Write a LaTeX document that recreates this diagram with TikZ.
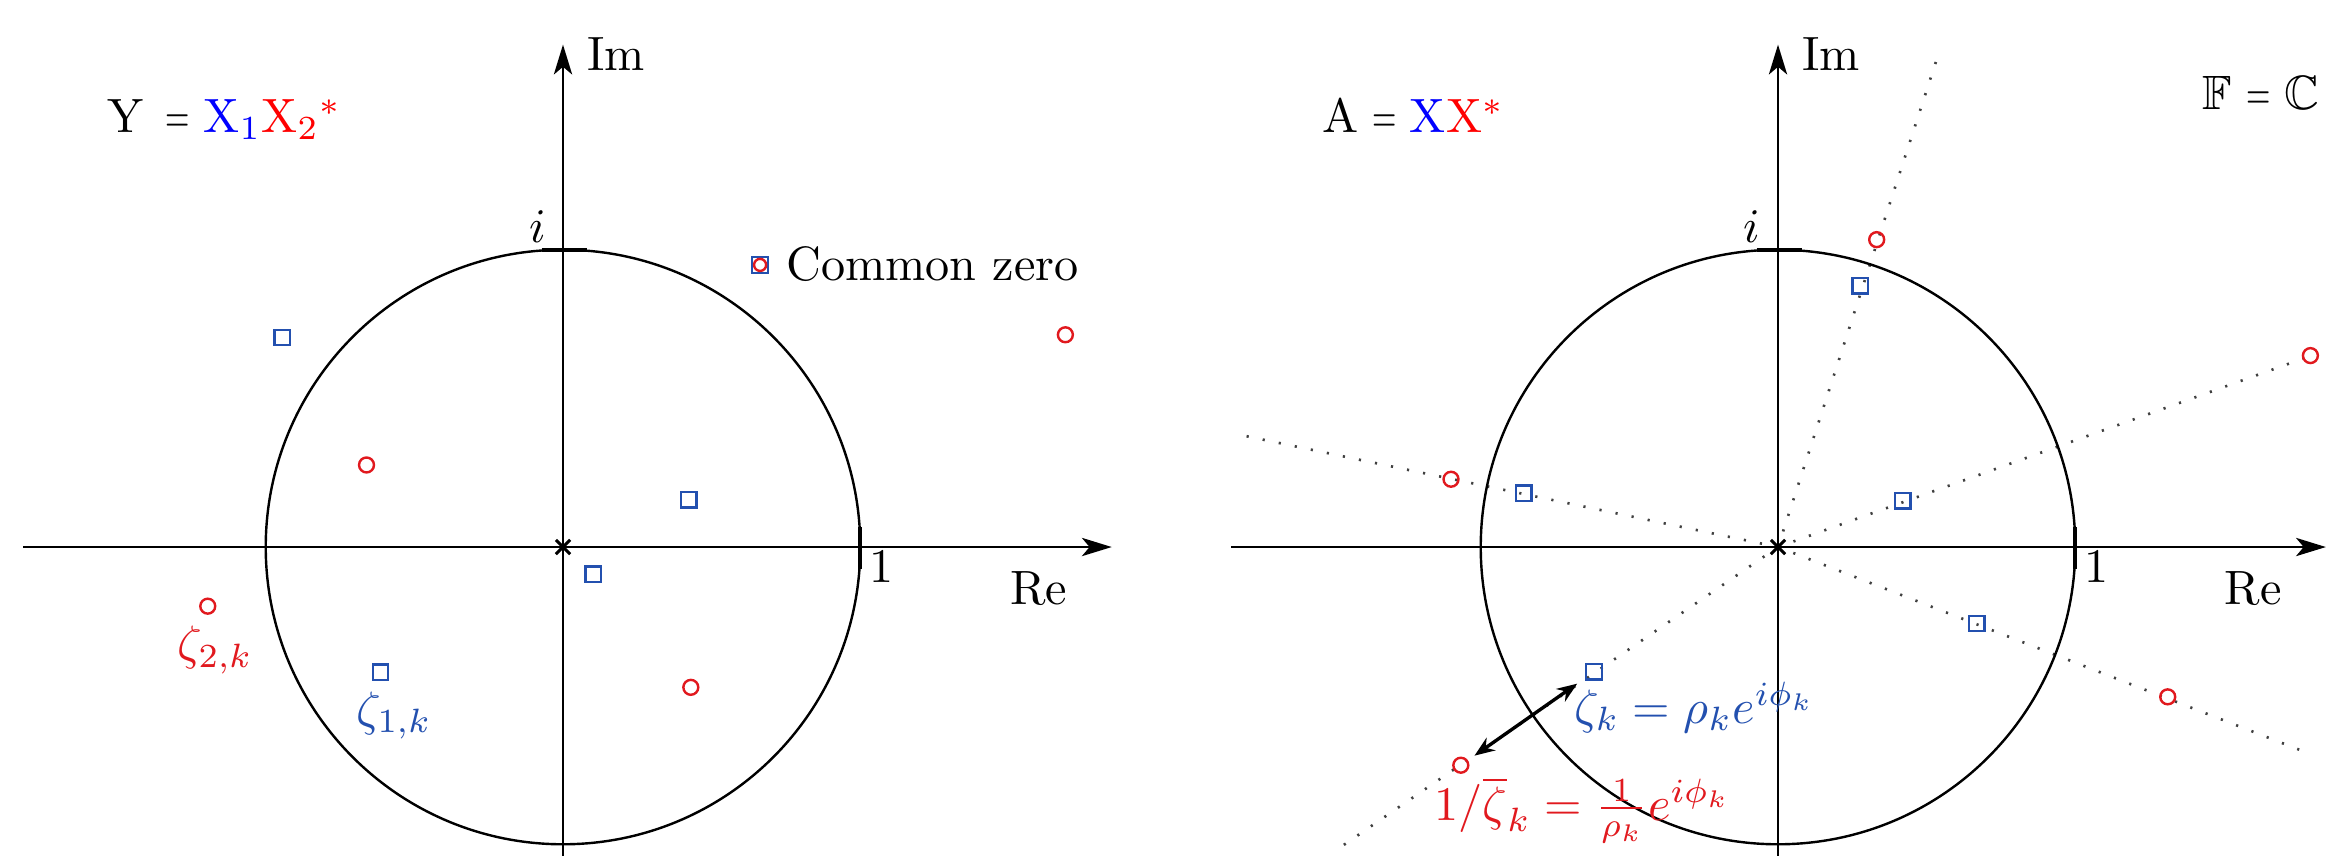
\documentclass[tikz,border=0pt]{standalone}
\usepackage{amssymb}
\usepackage{graphicx}
\usetikzlibrary{arrows.meta}
\definecolor{zblue}{RGB}{35,80,175}
\definecolor{zred}{RGB}{225,25,30}
\newcommand{\nareq}{\scalebox{0.65}[1]{$=$}}
\tikzset{
  axis/.style={line width=0.4pt,-{Stealth[length=6.2pt,width=3.8pt,inset=1.6pt]}},
  ucirc/.style={line width=0.5pt},
  tickmark/.style={line width=0.8pt},
  crossmark/.style={line width=0.6pt},
  lbl/.style={inner sep=0pt,outer sep=0pt},
  sq/.style={draw=zblue,line width=0.5pt,rectangle,minimum size=3.2pt,inner sep=0pt,outer sep=0pt},
  circ/.style={draw=zred,line width=0.5pt,circle,minimum size=3.1pt,inner sep=0pt,outer sep=0pt},
  ray/.style={line width=0.55pt,black!75,dash pattern=on 0.45pt off 2.95pt},
  dblarrow/.style={line width=0.7pt,{Stealth[length=4.2pt,width=3.2pt]}-{Stealth[length=4.2pt,width=3.2pt]}}
}
\begin{document}
\begin{tikzpicture}[x=0.0073cm,y=-0.0073cm]
\useasboundingbox (0,0) rectangle (2332,855);
% ---------------- left panel ----------------
\begin{scope}[shift={(563,547)},x=2.1681cm,y=2.1681cm]
  \coordinate (L-o) at (0,0);
  \coordinate (L-xs) at (-1.815,0);
  \coordinate (L-xe) at (1.846,0);
  \coordinate (L-ys) at (0,-1.04);
  \coordinate (L-ye) at (0,1.69);
  \draw[axis] (L-xs) -- (L-xe);
  \draw[axis] (L-ys) -- (L-ye);
  \draw[ucirc] (L-o) circle[radius=1];
  \draw[tickmark] (-0.072,1) -- (0.080,1);
  \draw[tickmark] (1,-0.075) -- (1,0.068);
  \draw[crossmark] (-0.024,-0.024) -- (0.024,0.024);
  \draw[crossmark] (-0.024,0.024) -- (0.024,-0.024);
  \node[lbl,anchor=west] (L-im) at (0.081,1.657) {Im};
  \node[lbl] (L-re) at (1.601,-0.141) {Re};
  \node[lbl] (L-one) at (1.073,-0.066) {1};
  \node[lbl] (L-i) at (-0.086,1.078) {$i$};
  \node[lbl,anchor=base west] (L-eq) at (-1.532,1.394)
    {Y\kern4.6pt\nareq\kern2.8pt$\color{blue}\mathrm{X}_1$$\color{red}\mathrm{X}_2{}^{*}$};
  % zeros
  \node[sq] (L-b1) at (-0.944,0.705) {};
  \node[sq] (L-b2) at (0.423,0.159) {};
  \node[sq] (L-b3) at (0.102,-0.091) {};
  \node[sq] (L-b4) at (-0.614,-0.421) {};
  \node[circ] (L-r1) at (1.690,0.714) {};
  \node[circ] (L-r2) at (-0.661,0.276) {};
  \node[circ] (L-r3) at (-1.195,-0.199) {};
  \node[circ] (L-r4) at (0.430,-0.472) {};
  \node[sq,minimum size=3.4pt] (L-cz) at (0.663,0.949) {};
  \node[circ,minimum size=2.5pt] (L-czr) at (L-cz) {};
  \node[lbl,anchor=west] (L-czt) at (0.752,0.953) {Common zero};
  \node[lbl,anchor=base,text=zred] (L-z2) at (-1.17,-0.380) {$\zeta_{2,k}$};
  \node[lbl,anchor=base,text=zblue] (L-z1) at (-0.568,-0.599) {$\zeta_{1,k}$};
\end{scope}
% ---------------- right panel ----------------
\begin{scope}[shift={(1778,547)},x=2.1681cm,y=2.1681cm]
  \coordinate (R-o) at (0,0);
  \coordinate (R-xs) at (-1.839,0);
  \coordinate (R-xe) at (1.843,0);
  \coordinate (R-ys) at (0,-1.04);
  \coordinate (R-ye) at (0,1.69);
  % rays
  \coordinate (R-e1) at (0.537,1.650);
  \coordinate (R-e2) at (-1.808,0.377);
  \coordinate (R-e3) at (1.80,0.646);
  \coordinate (R-e4) at (1.772,-0.689);
  \coordinate (R-e5) at (-1.478,-1.014);
  \foreach \e in {1,...,5} {\draw[ray] (R-o) -- (R-e\e);}
  \draw[axis] (R-xs) -- (R-xe);
  \draw[axis] (R-ys) -- (R-ye);
  \draw[ucirc] (R-o) circle[radius=1];
  \draw[tickmark] (-0.072,1) -- (0.080,1);
  \draw[tickmark] (1,-0.075) -- (1,0.068);
  \draw[crossmark] (-0.024,-0.024) -- (0.024,0.024);
  \draw[crossmark] (-0.024,0.024) -- (0.024,-0.024);
  \node[lbl,anchor=west] (R-im) at (0.081,1.657) {Im};
  \node[lbl] (R-re) at (1.599,-0.141) {Re};
  \node[lbl] (R-one) at (1.071,-0.066) {1};
  \node[lbl] (R-i) at (-0.0875,1.078) {$i$};
  \node[lbl,anchor=base west] (R-eq) at (-1.534,1.394)
    {A\kern2.9pt\nareq\kern2.8pt$\color{blue}\mathrm{X}$$\color{red}\mathrm{X}^{*}$};
  \node[lbl,anchor=base east] (R-field) at (1.822,1.471)
    {$\mathbb{F}$\kern3.1pt\nareq\kern2.8pt$\mathbb{C}$};
  % zeros
  \node[sq] (R-b1) at (0.277,0.879) {};
  \node[sq] (R-b2) at (-0.855,0.181) {};
  \node[sq] (R-b3) at (0.420,0.156) {};
  \node[sq] (R-b4) at (0.668,-0.257) {};
  \node[sq] (R-b5) at (-0.619,-0.420) {};
  \node[circ] (R-r1) at (0.332,1.034) {};
  \node[circ] (R-r2) at (-1.100,0.228) {};
  \node[circ] (R-r3) at (1.791,0.644) {};
  \node[circ] (R-r4) at (1.311,-0.504) {};
  \node[circ] (R-r5) at (-1.067,-0.734) {};
  \draw[dblarrow,shorten <=2.3pt,shorten >=1.9pt] (R-b5) -- (R-r5);
  \node[lbl,anchor=base west,text=zblue] (R-zk) at (-0.684,-0.593)
    {$\zeta_k = \rho_k e^{i\phi_k}$};
  \node[lbl,anchor=base west,text=zred] (R-izk) at (-1.155,-0.919)
    {$1/\overline{\zeta}_k = \frac{1}{\rho_k} e^{i\phi_k}$};
\end{scope}
\end{tikzpicture}
\end{document}
